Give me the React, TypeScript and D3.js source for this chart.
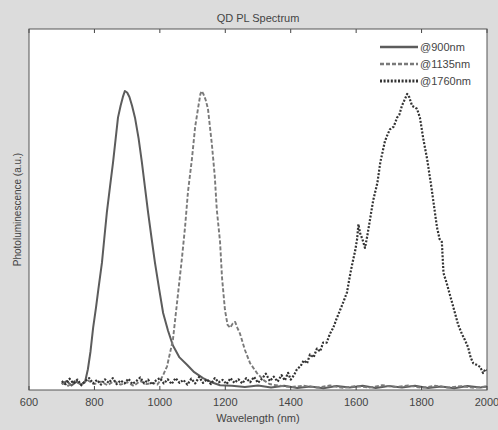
import React from "react";
import * as d3 from "d3";

const W = 498, H = 430;
const title = "QD PL Spectrum";
const xLabel = "Wavelength (nm)";
const yLabel = "Photoluminescence (a.u.)";
const xTicks = [600, 800, 1000, 1200, 1400, 1600, 1800, 2000];
const seriesNames = ["@900nm", "@1135nm", "@1760nm"];

const s900: [number, number][] = [
  [700, 0.01], [715, 0.02], [730, 0.005], [745, 0.018], [760, 0.008], [772, 0.02], [780, 0.06], [788, 0.12],
  [796, 0.2], [805, 0.27], [812, 0.33], [823, 0.42], [830, 0.5], [838, 0.59], [848, 0.68], [857, 0.76],
  [865, 0.84], [872, 0.91], [880, 0.95], [887, 0.98], [893, 1.0], [900, 0.995], [907, 0.98], [915, 0.95],
  [924, 0.91], [935, 0.84], [945, 0.76], [955, 0.67], [964, 0.59], [975, 0.5], [985, 0.42], [998, 0.33],
  [1010, 0.25], [1025, 0.19], [1040, 0.14], [1060, 0.1], [1083, 0.075], [1105, 0.05], [1132, 0.03],
  [1160, 0.015], [1184, 0.006], [1220, 0.004], [1260, 0.0], [1300, 0.005], [1340, -0.002], [1380, 0.004],
  [1420, -0.003], [1460, 0.002], [1500, -0.004], [1540, 0.003], [1580, -0.002], [1620, 0.004], [1660, -0.003],
  [1700, 0.003], [1740, -0.002], [1780, 0.004], [1820, -0.003], [1860, 0.002], [1900, -0.004], [1940, 0.003],
  [1980, -0.002], [2000, 0.002],
];

const s1135: [number, number][] = [
  [700, 0.015], [720, 0.004], [740, 0.02], [760, 0.008], [780, 0.022], [800, 0.01], [820, 0.018], [840, 0.006],
  [860, 0.02], [880, 0.008], [900, 0.016], [920, 0.004], [940, 0.02], [960, 0.01], [980, 0.014], [992, 0.008],
  [1000, 0.02], [1010, 0.04], [1022, 0.07], [1030, 0.11], [1040, 0.16], [1048, 0.24], [1056, 0.32],
  [1067, 0.43], [1077, 0.54], [1086, 0.66], [1098, 0.77], [1108, 0.88], [1118, 0.95], [1124, 0.99],
  [1128, 1.0], [1133, 0.99], [1140, 0.97], [1147, 0.94], [1153, 0.88], [1159, 0.82], [1168, 0.71],
  [1174, 0.6], [1184, 0.49], [1190, 0.37], [1199, 0.26], [1207, 0.21], [1215, 0.2], [1223, 0.215],
  [1230, 0.22], [1237, 0.2], [1245, 0.18], [1260, 0.125], [1276, 0.08], [1297, 0.047], [1316, 0.024],
  [1335, 0.01], [1360, 0.005], [1400, 0.0], [1440, 0.004], [1480, -0.002], [1520, 0.005], [1560, -0.003],
  [1600, 0.003], [1640, -0.002], [1680, 0.006], [1720, 0.0], [1760, 0.005], [1800, -0.003], [1840, 0.004],
  [1880, -0.002], [1920, 0.003], [1960, -0.003], [2000, 0.002],
];

const s1760: [number, number][] = [
  [700, 0.02], [712, 0.01], [724, 0.028], [736, 0.012], [748, 0.025], [760, 0.006], [772, 0.02], [784, 0.03],
  [796, 0.012], [808, 0.024], [820, 0.008], [832, 0.026], [844, 0.014], [856, 0.03], [868, 0.01], [880, 0.022],
  [892, 0.012], [904, 0.028], [916, 0.01], [928, 0.02], [940, 0.032], [952, 0.012], [964, 0.025], [976, 0.008],
  [988, 0.022], [1000, 0.03], [1012, 0.012], [1024, 0.026], [1036, 0.01], [1048, 0.03], [1060, 0.014],
  [1072, 0.024], [1084, 0.008], [1096, 0.028], [1108, 0.012], [1120, 0.034], [1132, 0.014], [1144, 0.026],
  [1156, 0.01], [1168, 0.03], [1180, 0.016], [1192, 0.024], [1204, 0.01], [1216, 0.03], [1228, 0.014],
  [1240, 0.026], [1252, 0.012], [1264, 0.03], [1276, 0.016], [1288, 0.034], [1300, 0.014], [1312, 0.028],
  [1324, 0.045], [1336, 0.02], [1348, 0.035], [1360, 0.018], [1372, 0.04], [1382, 0.022], [1392, 0.048],
  [1400, 0.025], [1410, 0.04], [1419, 0.06], [1430, 0.07], [1440, 0.09], [1450, 0.08], [1459, 0.11],
  [1470, 0.1], [1480, 0.13], [1490, 0.12], [1499, 0.15], [1510, 0.15], [1520, 0.18], [1530, 0.2],
  [1540, 0.23], [1551, 0.26], [1562, 0.29], [1572, 0.32], [1580, 0.37], [1587, 0.41], [1597, 0.46],
  [1603, 0.5], [1607, 0.55], [1612, 0.52], [1619, 0.5], [1627, 0.47], [1634, 0.51], [1643, 0.57],
  [1652, 0.63], [1665, 0.69], [1674, 0.76], [1688, 0.83], [1695, 0.85], [1703, 0.87], [1715, 0.88],
  [1725, 0.91], [1732, 0.92], [1740, 0.95], [1748, 0.97], [1756, 0.99], [1762, 0.98], [1771, 0.95],
  [1786, 0.94], [1795, 0.91], [1805, 0.84], [1817, 0.77], [1832, 0.66], [1847, 0.54], [1855, 0.5],
  [1862, 0.49], [1867, 0.385], [1877, 0.35], [1887, 0.31], [1902, 0.25], [1912, 0.21], [1923, 0.18],
  [1932, 0.16], [1942, 0.135], [1950, 0.1], [1958, 0.08], [1968, 0.075], [1979, 0.068], [1988, 0.047],
  [1995, 0.06], [2000, 0.057],
];

const seriesData = [s900, s1135, s1760];
const seriesStyle = [
  { stroke: "#5c5c5c", width: 2, dash: "none" },
  { stroke: "#7a7a7a", width: 1.9, dash: "4,2" },
  { stroke: "#333333", width: 2.2, dash: "2,1.6" },
];

const left = 29, right = 487, top = 29, bottom = 390;

export default function App() {
  const x = d3.scaleLinear().domain([600, 2000]).range([left, right]);
  const y = d3.scaleLinear().domain([0, 1]).range([387, 91]);
  const line = d3
    .line<[number, number]>()
    .x((d) => x(d[0]))
    .y((d) => y(d[1]));
  const font = "Arial, 'Liberation Sans', sans-serif";
  return (
    <svg
      width={W}
      height={H}
      style={{ position: "absolute", left: 0, top: 0 }}
      fontFamily={font}
    >
      <rect x={0} y={0} width={W} height={H} fill="#dcdcdc" />
      <rect x={left} y={top} width={right - left} height={bottom - top} fill="#ffffff" />
      <text x={(left + right) / 2} y={22} textAnchor="middle" fontSize={11} fill="#444">
        {title}
      </text>
      <defs>
        <clipPath id="plotclip">
          <rect x={left} y={top} width={right - left} height={bottom - top} />
        </clipPath>
      </defs>
      <g clipPath="url(#plotclip)">
        {seriesData.map((s, i) => (
          <path
            key={i}
            d={line(s) || ""}
            fill="none"
            stroke={seriesStyle[i].stroke}
            strokeWidth={seriesStyle[i].width}
            strokeDasharray={seriesStyle[i].dash}
            strokeLinejoin="round"
          />
        ))}
      </g>
      {xTicks.map((t) => (
        <g key={t}>
          <line x1={x(t)} x2={x(t)} y1={top} y2={top + 4} stroke="#444" />
          <line x1={x(t)} x2={x(t)} y1={bottom} y2={bottom - 4} stroke="#444" />
          <text x={x(t)} y={406} textAnchor="middle" fontSize={11} fill="#444">
            {t}
          </text>
        </g>
      ))}
      <rect
        x={left}
        y={top}
        width={right - left}
        height={bottom - top}
        fill="none"
        stroke="#555"
        strokeWidth={1}
      />
      <text x={(left + right) / 2} y={422} textAnchor="middle" fontSize={11} fill="#444">
        {xLabel}
      </text>
      <text
        transform={`translate(21, ${(top + bottom) / 2}) rotate(-90)`}
        textAnchor="middle"
        fontSize={10}
        fill="#444"
      >
        {yLabel}
      </text>
      {seriesNames.map((n, i) => (
        <g key={n}>
          <line
            x1={380}
            x2={418}
            y1={47 + i * 17}
            y2={47 + i * 17}
            stroke={seriesStyle[i].stroke}
            strokeWidth={seriesStyle[i].width + 0.6}
            strokeDasharray={seriesStyle[i].dash}
          />
          <text x={420} y={51 + i * 17} fontSize={11} fill="#444">
            {n}
          </text>
        </g>
      ))}
    </svg>
  );
}
